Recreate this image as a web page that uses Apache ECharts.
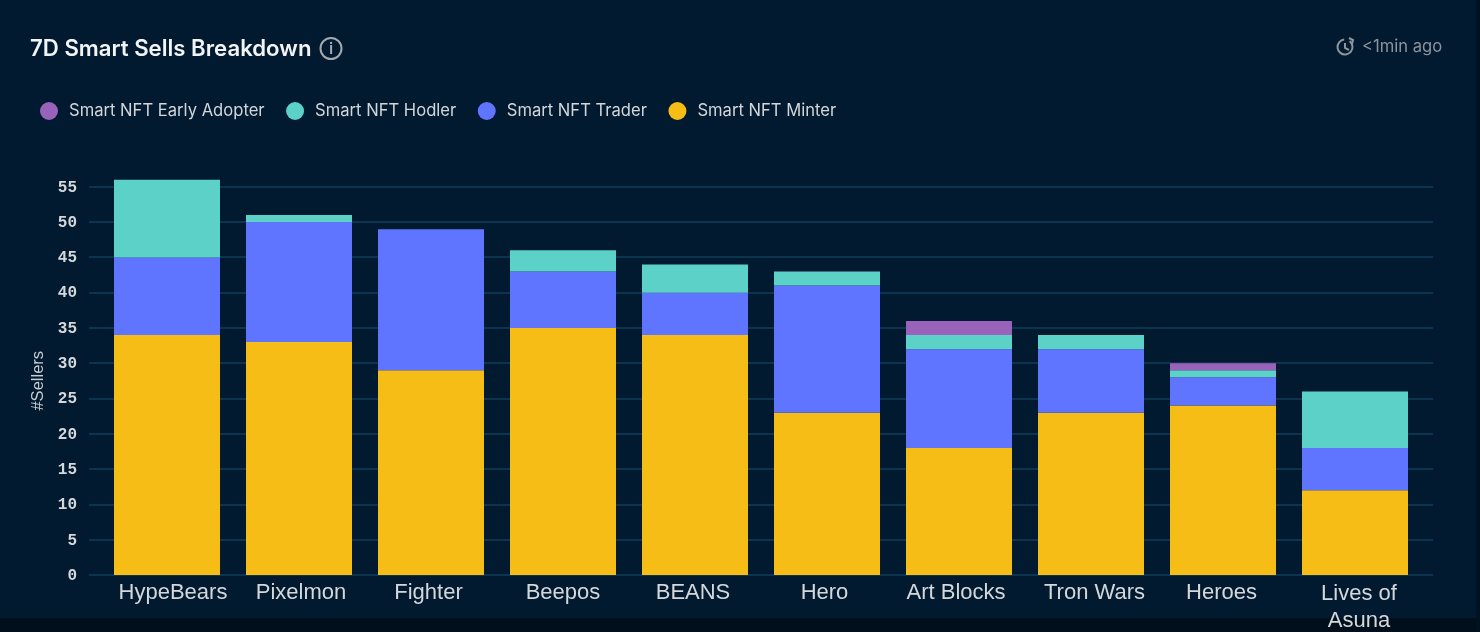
<!DOCTYPE html>
<html><head><meta charset="utf-8">
<style>html,body{margin:0;padding:0;background:#011a2f}#c{width:1480px;height:632px}</style>
<script src="https://cdn.jsdelivr.net/npm/echarts@6/dist/echarts.min.js"></script>
</head><body><div id="c"></div>
<script>
const categories = ['HypeBears','Pixelmon','Fighter','Beepos','BEANS','Hero','Art Blocks','Tron Wars','Heroes','Lives of\nAsuna'];
const minter  = [34,33,29,35,34,23,18,23,24,12];
const trader  = [11,17,20,8,6,18,14,9,4,6];
const hodler  = [11,1,null,3,4,2,2,2,1,8];
const early   = [null,null,null,null,null,null,2,null,1,null];
const legendNames = ['Smart NFT Early Adopter','Smart NFT Hodler','Smart NFT Trader','Smart NFT Minter'];
const colors = {minter:'#f6bd16',trader:'#5f75ff',hodler:'#5bd1c8',early:'#9a63bb'};
// the reference's labels sit slightly off their bars: horizontal nudge in px per label
const labelNudge = [6,2,-2.5,0,-2,-2.5,-3,3.5,-1.5,4];
const rich = {};
labelNudge.forEach((n,i)=>{
  rich['l'+i] = {color:'#d5d8db',fontFamily:'Liberation Sans',fontSize:22,lineHeight:27,
    padding:[i===9?3:0, n<0?-2*n:0, 0, n>0?2*n:0]};
});
const chart = echarts.init(document.getElementById('c'),null,{renderer:'canvas'});
const mk=(name,data,color)=>({name,type:'bar',stack:'s',xAxisIndex:0,yAxisIndex:0,data,barWidth:106,
  itemStyle:{color},emphasis:{disabled:true}});
chart.setOption({
  animation:false,
  backgroundColor:'#011a2f',
  title:{text:'7D Smart Sells Breakdown',left:30,top:36,padding:0,textStyle:{color:'#f2f4f6',fontFamily:'Inter',fontSize:22.2,fontWeight:600,lineHeight:26}},
  legend:{data:legendNames,left:40,top:102,padding:0,icon:'circle',itemWidth:18,itemHeight:18,itemGap:21.5,
    textStyle:{color:'#d3d7db',fontFamily:'Inter',fontSize:16.6,padding:[0,0,0,6]}},
  grid:[
    {left:101,width:1320,top:151.5,height:424},
    {left:89,width:1344,top:186.5,height:388.5}
  ],
  xAxis:[
    {type:'category',gridIndex:0,data:categories,axisLine:{show:false},axisTick:{show:false},
      axisLabel:{interval:0,margin:4,overflow:'none',verticalAlign:'top',
        formatter:(v,i)=>v.split('\n').map(s=>'{l'+i+'|'+s+'}').join('\n'),rich}},
    {type:'value',gridIndex:1,min:0,max:1,show:false,splitLine:{show:false}}
  ],
  yAxis:[
    {type:'value',gridIndex:0,min:0,max:60,interval:5,show:false,splitLine:{show:false}},
    {type:'value',gridIndex:1,min:0,max:55,interval:5,position:'left',
      name:'#Sellers',nameLocation:'middle',nameGap:40,nameRotate:90,
      nameTextStyle:{color:'#c9cdd1',fontFamily:'Liberation Sans',fontSize:16.5},
      axisLine:{show:false},axisTick:{show:false},
      axisLabel:{margin:12,formatter:'{a|{value}}',
        rich:{a:{color:'#d5d8db',fontFamily:'Liberation Mono',fontSize:16,fontWeight:'bold',padding:[2,0,0,0]}}},
      splitLine:{show:true,lineStyle:{color:'#0c3350',width:2}}}
  ],
  series:[
    mk('Smart NFT Minter',minter,colors.minter),
    mk('Smart NFT Trader',trader,colors.trader),
    mk('Smart NFT Hodler',hodler,colors.hodler),
    mk('Smart NFT Early Adopter',early,colors.early)
  ],
  graphic:[
    {type:'rect',z:-1,silent:true,shape:{x:0,y:618,width:1480,height:14},style:{fill:'#010f1c'}},
    {type:'rect',z:-1,silent:true,shape:{x:1476,y:0,width:4,height:632},style:{fill:'#01121f'}},
    {type:'circle',shape:{cx:331,cy:48.5,r:10.5},style:{fill:'none',stroke:'#a3a9af',lineWidth:2}},
    {type:'text',style:{x:331,y:49,text:'i',fill:'#a3a9af',font:'600 16px Inter',align:'center',verticalAlign:'middle'}},
    {type:'arc',shape:{cx:1345,cy:47,r:7.5,startAngle:-0.9,endAngle:4.6,clockwise:true},style:{fill:'none',stroke:'#8d959c',lineWidth:2}},
    {type:'polyline',shape:{points:[[1345,43],[1345,48],[1349,50]]},style:{fill:'none',stroke:'#8d959c',lineWidth:2}},
    {type:'polyline',shape:{points:[[1349,38],[1353,40],[1352,44]]},style:{fill:'none',stroke:'#8d959c',lineWidth:2}},
    {type:'text',style:{x:1362,y:47,text:'<1min ago',fill:'#8d959c',font:'16.6px Inter',align:'left',verticalAlign:'middle'}}
  ]
});
</script></body></html>
